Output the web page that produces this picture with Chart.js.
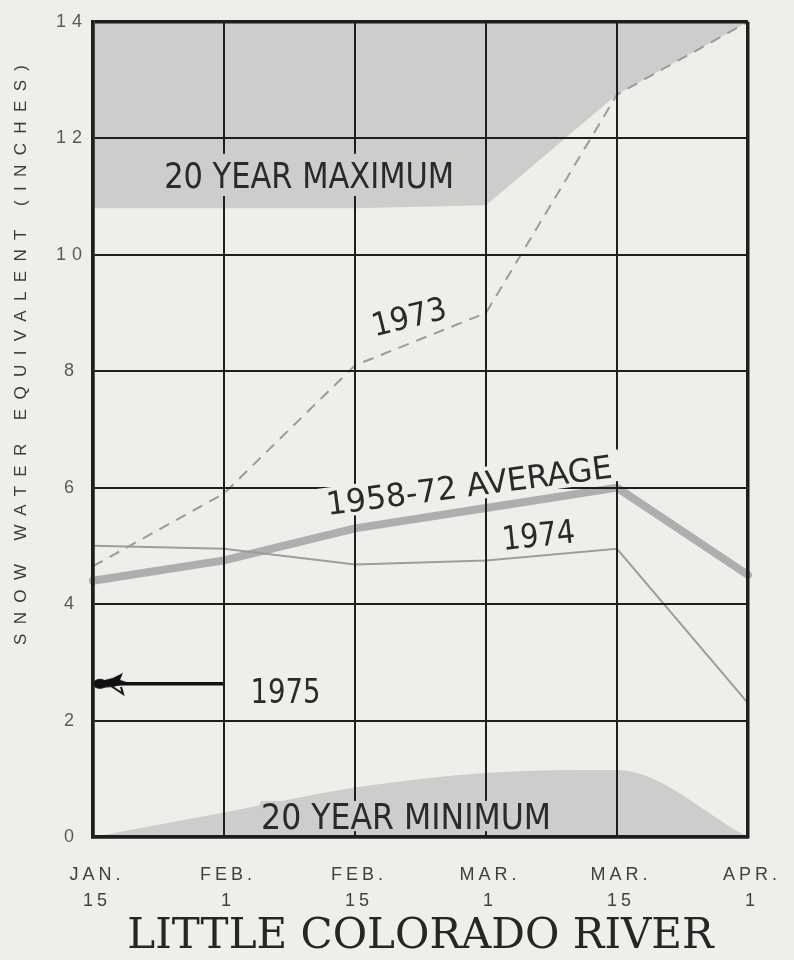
<!DOCTYPE html>
<html>
<head>
<meta charset="utf-8">
<script src="https://cdn.jsdelivr.net/npm/chart.js@4.4.1/dist/chart.umd.min.js"></script>
<style>
  html, body { margin: 0; padding: 0; background: #efeeea; }
  canvas { display: block; }
</style>
</head>
<body>
<canvas id="snowChart" width="794" height="960"></canvas>
<script>
const categories = [['JAN.', '15'], ['FEB.', '1'], ['FEB.', '15'], ['MAR.', '1'], ['MAR.', '15'], ['APR.', '1']];
const yTickValues = [0, 2, 4, 6, 8, 10, 12, 14];

const max20  = [10.8, 10.8, 10.8, 10.85, 12.75, 14.0];
const min20  = [0, 0.42, 0.85, 1.1, 1.15, 0];
const avg    = [4.4, 4.75, 5.3, 5.65, 6.0, 4.5];
const y1973  = [4.65, 5.9, 8.1, 9.0, 12.75, 14.0];
const y1974  = [5.0, 4.95, 4.68, 4.75, 4.95, 2.3];
const y1975  = [2.63, 2.63, null, null, null, null];

const BG    = '#efeeea';
const SHADE = '#cecdcb';
const INK   = '#1e1e1e';

const yTitle = 'SNOW WATER EQUIVALENT (INCHES)';

// text written on the chart, placed in data units; knock = patch behind the text
const notes = [
  { text: '20 YEAR MAXIMUM', x: 1.65, y: 11.37, size: 36, width: 290, angle: 0,    knock: SHADE, padX: 8, padY: 8 },
  { text: '1973',            x: 2.41, y: 8.95,  size: 32, width: 76,  angle: -14,  knock: null },
  { text: '1958-72 AVERAGE', x: 2.87, y: 6.05,  size: 32, width: 288, angle: -7.5, knock: BG,    padX: 8, padY: 4 },
  { text: '1974',            x: 3.4,  y: 5.2,   size: 33, width: 73,  angle: -6,   knock: null },
  { text: '1975',            x: 1.47, y: 2.51,  size: 33, width: 70,  angle: 0,    knock: null },
  { text: '20 YEAR MINIMUM', x: 2.39, y: 0.36,  size: 36, width: 290, angle: 0,    knock: SHADE, padX: 1, padY: 2 },
];

// letter spacing for tick labels
const drawLabelsOrig = Chart.Scale.prototype.drawLabels;
Chart.Scale.prototype.drawLabels = function (area) {
  const sp = this.options.ticks.letterSpacing;
  this.ctx.save();
  if (sp) this.ctx.letterSpacing = sp + 'px';
  drawLabelsOrig.call(this, area);
  this.ctx.restore();
};

// arrow head for the 1975 point, tip sits on the point (canvas centre)
const arrow = document.createElement('canvas');
arrow.width = 100; arrow.height = 32;
(function () {
  const a = arrow.getContext('2d');
  a.fillStyle = '#111';
  a.strokeStyle = '#111';
  a.beginPath();
  a.ellipse(57, 16, 7, 5, 0, 0, Math.PI * 2);
  a.fill();
  a.beginPath();
  a.moveTo(58, 13);
  a.lineTo(70, 10);
  a.lineTo(80, 5);
  a.lineTo(77, 12);
  a.lineTo(86, 15);
  a.lineTo(70, 19);
  a.lineTo(58, 20);
  a.closePath();
  a.fill();
  a.lineWidth = 2;
  a.beginPath();
  a.moveTo(68, 18);
  a.lineTo(80, 26);
  a.lineTo(78, 19);
  a.stroke();
})();

const fontSans = '"DejaVu Sans Condensed", "Liberation Sans Narrow", "DejaVu Sans", sans-serif';

const decor = {
  id: 'decor',
  beforeDraw(chart) {
    const ctx = chart.ctx;
    ctx.save();
    ctx.fillStyle = BG;
    ctx.fillRect(0, 0, chart.width, chart.height);
    ctx.restore();
  },
  afterDraw(chart) {
    const ctx = chart.ctx;
    const xs = chart.scales.x, ys = chart.scales.y;

    notes.forEach(n => {
      const px = xs.getPixelForValue(n.x);
      const py = ys.getPixelForValue(n.y);
      const cap = n.size * 0.73;
      ctx.save();
      ctx.translate(px, py);
      ctx.rotate(n.angle * Math.PI / 180);
      if (n.knock) {
        ctx.fillStyle = n.knock;
        ctx.fillRect(-n.width / 2 - n.padX, -cap / 2 - n.padY, n.width + 2 * n.padX, cap + 2 * n.padY);
      }
      ctx.font = n.size + 'px ' + fontSans;
      const m = ctx.measureText(n.text).width;
      ctx.scale(n.width / m, 1);
      ctx.fillStyle = '#2a2a2a';
      ctx.textAlign = 'center';
      ctx.textBaseline = 'alphabetic';
      ctx.fillText(n.text, 0, cap / 2);
      ctx.restore();
    });

    // y axis title, widely spaced
    ctx.save();
    ctx.translate(26, 355);
    ctx.rotate(-Math.PI / 2);
    ctx.font = '17px "Liberation Sans", Arial, sans-serif';
    const m = ctx.measureText(yTitle).width;
    const sp = (580 - m) / (yTitle.length - 1);
    ctx.letterSpacing = sp + 'px';
    ctx.fillStyle = '#3c3c3c';
    ctx.textAlign = 'left';
    ctx.textBaseline = 'alphabetic';
    ctx.fillText(yTitle, -290, 0);
    ctx.restore();
  }
};

const edgeWidth = (ctx, n) => (ctx.index === 0 || ctx.index === n - 1) ? 3.5 : 2;

new Chart(document.getElementById('snowChart'), {
  type: 'line',
  data: {
    labels: categories,
    datasets: [
      { label: '1975', data: y1975, borderColor: '#111', borderWidth: 3.5,
        pointStyle: arrow, pointRadius: [5, 0, 0, 0, 0, 0], order: 1 },
      { label: '1973', data: y1973, borderColor: '#9b9b9b', borderWidth: 2,
        borderDash: [11, 8], pointRadius: 0, order: 2 },
      { label: '1974', data: y1974, borderColor: '#9d9d9d', borderWidth: 2,
        pointRadius: 0, order: 3 },
      { label: '1958-72 AVERAGE', data: avg, borderColor: '#aeaeae', borderWidth: 8,
        borderJoinStyle: 'round', borderCapStyle: 'round', pointRadius: 0, order: 4 },
      { label: '20 YEAR MINIMUM', data: min20, borderWidth: 0, borderColor: SHADE,
        backgroundColor: SHADE, fill: 'origin', cubicInterpolationMode: 'monotone',
        pointRadius: 0, order: 10 },
      { label: '20 YEAR MAXIMUM', data: max20, borderWidth: 0, borderColor: SHADE,
        backgroundColor: SHADE, fill: 'end', pointRadius: 0, order: 11 },
    ]
  },
  options: {
    responsive: false,
    animation: false,
    layout: { padding: { left: 0, top: 16, right: 38, bottom: 0 } },
    plugins: {
      legend: { display: false },
      tooltip: { enabled: false },
      title: {
        display: true,
        text: 'LITTLE COLORADO RIVER',
        position: 'bottom',
        fullSize: false,
        color: '#262626',
        font: { family: '"DejaVu Serif", "Liberation Serif", serif', size: 42, weight: 'normal', lineHeight: 1 },
        padding: { top: 0, bottom: 2 }
      }
    },
    scales: {
      x: {
        offset: false,
        grid: { z: 1, color: INK, lineWidth: ctx => edgeWidth(ctx, categories.length), drawTicks: false },
        border: { z: 1, color: INK, width: 3.5 },
        ticks: {
          z: 1, color: '#404040', padding: 25, maxRotation: 0, autoSkip: false,
          letterSpacing: 4, labelOffset: 4,
          font: { family: '"Liberation Sans", Arial, sans-serif', size: 18, lineHeight: 1.45 }
        },
        afterFit: s => { s.height = 79; }
      },
      y: {
        min: 0, max: 14,
        afterBuildTicks: s => { s.ticks = yTickValues.map(v => ({ value: v })); },
        grid: { z: 1, color: INK, lineWidth: ctx => edgeWidth(ctx, yTickValues.length), drawTicks: false },
        border: { z: 1, color: INK, width: 3.5 },
        ticks: {
          z: 1, color: '#5a5a5a', padding: 11, crossAlign: 'center', letterSpacing: 6,
          font: { family: '"Liberation Sans", Arial, sans-serif', size: 18 }
        },
        afterFit: s => { s.width = 93; }
      }
    }
  },
  plugins: [decor]
});
</script>
</body>
</html>
